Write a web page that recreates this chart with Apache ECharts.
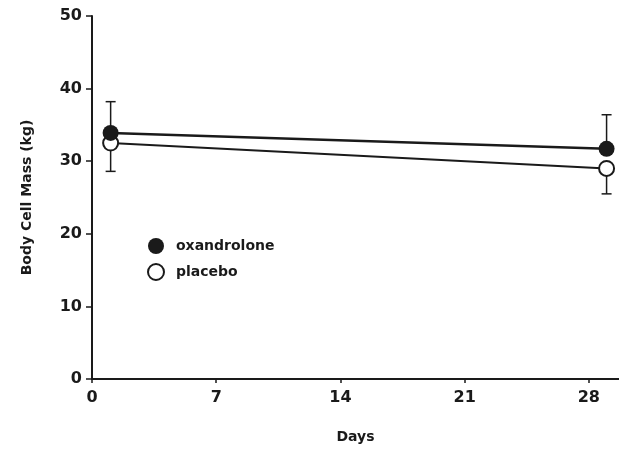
<!DOCTYPE html>
<html>
<head>
<meta charset="utf-8">
<script src="https://cdn.jsdelivr.net/npm/echarts@6/dist/echarts.min.js"></script>
<style>
  html, body { margin: 0; padding: 0; background: #fff; }
  #main { width: 619px; height: 450px; }
</style>
</head>
<body>
<div id="main"></div>
<script>
  // values
  const days = [1.05, 29];
  const oxandrolone = [33.9, 31.7];
  const oxandroloneErr = [4.3, 4.7];   // drawn upward only
  const placebo = [32.5, 29.0];
  const placeboErr = [3.9, 3.5];       // drawn downward only
  const xTicks = [0, 7, 14, 21, 28];

  const ink = '#1a1a1a';
  const font = 'DejaVu Sans';

  // error bar: [day, y, yEnd]
  function bars(ys, errs, sign) {
    return days.map((d, i) => [d, ys[i], ys[i] + sign * errs[i]]);
  }

  function renderBar(params, api) {
    const p0 = api.coord([api.value(0), api.value(1)]);
    const p1 = api.coord([api.value(0), api.value(2)]);
    const cap = 5;
    return {
      type: 'group',
      children: [
        { type: 'line', shape: { x1: p0[0], y1: p0[1], x2: p1[0], y2: p1[1] },
          style: { stroke: ink, lineWidth: 1.5 } },
        { type: 'line', shape: { x1: p1[0] - cap, y1: p1[1], x2: p1[0] + cap, y2: p1[1] },
          style: { stroke: ink, lineWidth: 1.5 } }
      ]
    };
  }

  const chart = echarts.init(document.getElementById('main'));
  chart.setOption({
    animation: false,
    grid: { left: 92, right: 0, top: 16, bottom: 71 },
    legend: {
      orient: 'vertical',
      left: 142, top: 233,
      itemWidth: 16, itemHeight: 16, itemGap: 9,
      textStyle: { fontFamily: font, fontWeight: 'bold', fontSize: 14, color: ink, padding: [0, 0, 0, 7] },
      data: [
        { name: 'oxandrolone', icon: 'circle', itemStyle: { color: ink, borderWidth: 0 } },
        { name: 'placebo', icon: 'circle', itemStyle: { color: '#fff', borderColor: ink, borderWidth: 2 } }
      ]
    },
    xAxis: {
      type: 'value',
      min: 0, max: 29.7,
      name: 'Days', nameLocation: 'middle', nameGap: 51,
      nameTextStyle: { fontFamily: font, fontWeight: 'bold', fontSize: 14, color: ink },
      axisLine: { lineStyle: { color: ink, width: 2 } },
      axisTick: { show: true, length: 4, customValues: xTicks, lineStyle: { color: ink, width: 1.5 } },
      axisLabel: { customValues: xTicks, margin: 11, fontFamily: font, fontWeight: 'bold', fontSize: 16, color: ink },
      splitLine: { show: false }
    },
    yAxis: {
      type: 'value',
      min: 0, max: 50, interval: 10,
      name: 'Body Cell Mass (kg)', nameLocation: 'middle', nameGap: 58,
      nameTextStyle: { fontFamily: font, fontWeight: 'bold', fontSize: 14, color: ink },
      axisLine: { show: true, lineStyle: { color: ink, width: 2 } },
      axisTick: { show: true, length: 6, lineStyle: { color: ink, width: 1.5 } },
      axisLabel: { margin: 10, fontFamily: font, fontWeight: 'bold', fontSize: 16, color: ink },
      splitLine: { show: false }
    },
    series: [
      {
        type: 'custom', name: 'errOx', renderItem: renderBar,
        data: bars(oxandrolone, oxandroloneErr, 1), z: 1, silent: true
      },
      {
        type: 'custom', name: 'errPl', renderItem: renderBar,
        data: bars(placebo, placeboErr, -1), z: 1, silent: true
      },
      {
        name: 'placebo', type: 'line', z: 3,
        data: days.map((d, i) => [d, placebo[i]]),
        symbol: 'circle', symbolSize: 15,
        lineStyle: { color: ink, width: 2 },
        itemStyle: { color: '#fff', borderColor: ink, borderWidth: 2 }
      },
      {
        name: 'oxandrolone', type: 'line', z: 4,
        data: days.map((d, i) => [d, oxandrolone[i]]),
        symbol: 'circle', symbolSize: 16,
        lineStyle: { color: ink, width: 2.5 },
        itemStyle: { color: ink, borderWidth: 0 }
      }
    ]
  });
</script>
</body>
</html>
